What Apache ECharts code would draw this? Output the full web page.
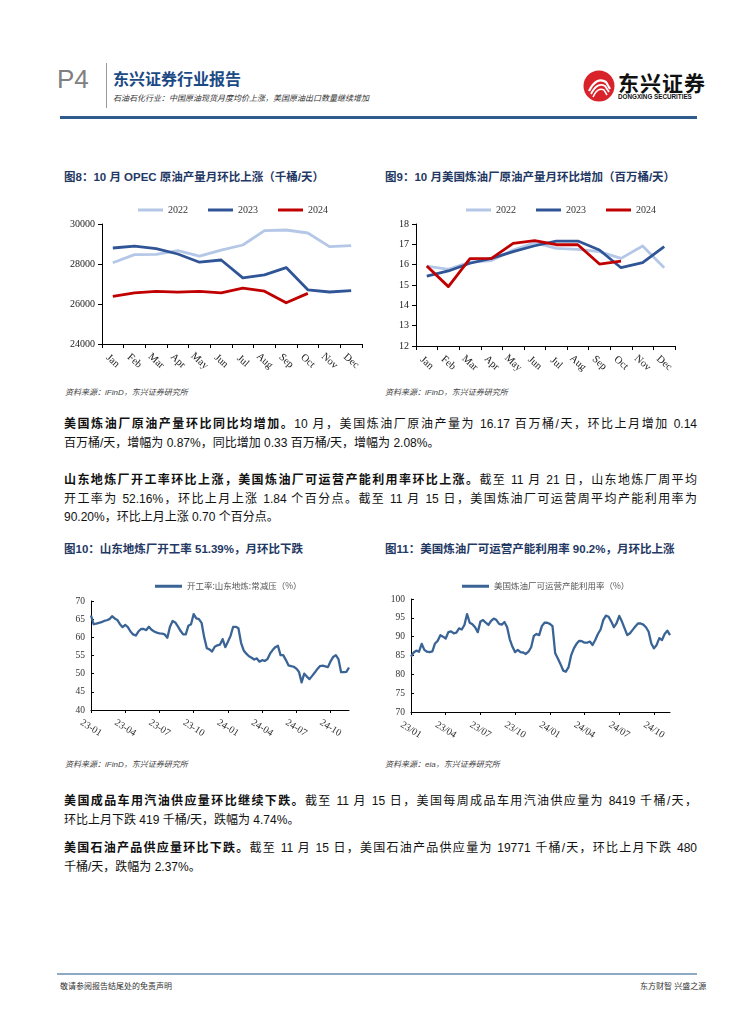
<!DOCTYPE html>
<html><head><meta charset="utf-8">
<script src="https://cdn.jsdelivr.net/npm/echarts/dist/echarts.min.js"></script>
<style>
body{margin:0;width:755px;height:1024px;background:#fff;position:relative;font-family:"Liberation Sans","Noto Sans CJK SC",sans-serif;overflow:hidden}
.abs{position:absolute;white-space:nowrap}
.ctitle{font-weight:bold;color:#1F3864;font-size:11.5px}
.src{font-size:8px;color:#444;font-style:italic}
.para{position:absolute;left:64px;width:633px;font-size:12px;color:#111;line-height:18.5px}
.para .j{text-align:justify;text-align-last:justify}
.para b{font-weight:bold}
.chart{position:absolute;width:320px;height:185px}
</style></head>
<body>
<!-- header -->
<div class="abs" style="left:57px;top:64px;font-size:26px;color:#808080;font-family:'Liberation Sans'">P4</div>
<div class="abs" style="left:106px;top:63px;width:1px;height:45px;background:#999"></div>
<div class="abs" style="left:113px;top:66px;font-size:16px;font-weight:bold;color:#1B4A85">东兴证券行业报告</div>
<div class="abs" style="left:113px;top:92px;font-size:8px;font-style:italic;color:#333">石油石化行业：中国原油现货月度均价上涨，美国原油出口数量继续增加</div>
<svg class="abs" style="left:582px;top:69px" width="34" height="34" viewBox="0 0 34 34">
  <circle cx="17" cy="17" r="15.5" fill="#D9232A"/>
  <path d="M7 22 C12 12,18 9,24 13 L28 20" stroke="#fff" stroke-width="2.2" fill="none"/>
  <path d="M9 25 C13 17,18 14,23 17 L27 23" stroke="#fff" stroke-width="1.8" fill="none"/>
  <path d="M11 28 C14 21,18 19,22 21 L25 26" stroke="#fff" stroke-width="1.5" fill="none"/>
</svg>
<div class="abs" style="left:618px;top:67px;font-size:21px;font-weight:bold;color:#111;letter-spacing:1px;font-family:'Noto Sans CJK SC'">东兴证券</div>
<div class="abs" style="left:618px;top:93px;font-size:6.3px;font-weight:bold;color:#111">DONGXING SECURITIES</div>
<div class="abs" style="left:60px;top:116px;width:637px;height:3px;background:#2E5C8A"></div>

<!-- chart titles row 1 -->
<div class="abs ctitle" style="left:64px;top:168px">图8：10 月 OPEC 原油产量月环比上涨（千桶/天）</div>
<div class="abs ctitle" style="left:385px;top:168px">图9：10 月美国炼油厂原油产量月环比增加（百万桶/天）</div>
<div id="c8" class="chart" style="left:55px;top:195px"></div>
<div id="c9" class="chart" style="left:380px;top:195px"></div>
<div class="abs src" style="left:65px;top:386px">资料来源：iFinD，东兴证券研究所</div>
<div class="abs src" style="left:385px;top:386px">资料来源：iFinD，东兴证券研究所</div>

<div class="para" style="top:415px">
<div class="j"><b>美国炼油厂原油产量环比同比均增加。</b>10 月，美国炼油厂原油产量为 16.17 百万桶/天，环比上月增加 0.14</div>
<div>百万桶/天，增幅为 0.87%，同比增加 0.33 百万桶/天，增幅为 2.08%。</div>
</div>
<div class="para" style="top:471px">
<div class="j"><b>山东地炼厂开工率环比上涨，美国炼油厂可运营产能利用率环比上涨。</b>截至 11 月 21 日，山东地炼厂周平均</div>
<div class="j">开工率为 52.16%，环比上月上涨 1.84 个百分点。截至 11 月 15 日，美国炼油厂可运营周平均产能利用率为</div>
<div>90.20%，环比上月上涨 0.70 个百分点。</div>
</div>

<!-- chart titles row 2 -->
<div class="abs ctitle" style="left:64px;top:540px">图10：山东地炼厂开工率 51.39%，月环比下跌</div>
<div class="abs ctitle" style="left:385px;top:540px">图11：美国炼油厂可运营产能利用率 90.2%，月环比上涨</div>
<div id="c10" class="chart" style="left:55px;top:570px"></div>
<div id="c11" class="chart" style="left:380px;top:570px"></div>
<div class="abs src" style="left:65px;top:758px">资料来源：iFinD，东兴证券研究所</div>
<div class="abs src" style="left:385px;top:758px">资料来源：eia，东兴证券研究所</div>

<div class="para" style="top:792px">
<div class="j"><b>美国成品车用汽油供应量环比继续下跌。</b>截至 11 月 15 日，美国每周成品车用汽油供应量为 8419 千桶/天，</div>
<div>环比上月下跌 419 千桶/天，跌幅为 4.74%。</div>
</div>
<div class="para" style="top:839px">
<div class="j"><b>美国石油产品供应量环比下跌。</b>截至 11 月 15 日，美国石油产品供应量为 19771 千桶/天，环比上月下跌 480</div>
<div>千桶/天，跌幅为 2.37%。</div>
</div>

<!-- footer -->
<div class="abs" style="left:57px;top:973px;width:640px;height:2px;background:#8EA9C4"></div>
<div class="abs" style="left:60px;top:980px;font-size:8px;color:#333">敬请参阅报告结尾处的免责声明</div>
<div class="abs" style="left:640px;top:980px;font-size:8px;color:#333">东方财智 兴盛之源</div>

<script>
// ---------- data ----------
const months = ['Jan','Feb','Mar','Apr','May','Jun','Jul','Aug','Sep','Oct','Nov','Dec'];
const yearNames = ['2022','2023','2024'];

const opec2022 = [28060,28470,28480,28670,28390,28690,28950,29670,29700,29550,28870,28920];
const opec2023 = [28800,28890,28770,28500,28090,28200,27310,27460,27820,26710,26600,26670];
const opec2024 = [26380,26560,26630,26590,26630,26560,26790,26640,26060,26530];

const us2022 = [15.93,15.77,16.13,16.2,16.72,17.08,16.8,16.75,16.64,16.31,16.92,15.85];
const us2023 = [15.44,15.69,16.07,16.31,16.64,16.93,17.16,17.16,16.72,15.85,16.1,16.89];
const us2024 = [15.93,14.92,16.3,16.31,17.05,17.18,16.98,16.98,16.03,16.17];

const sdTickLabels = ['23-01','23-04','23-07','23-10','24-01','24-04','24-07','24-10'];
const sdRate = [66.0,63.6,63.8,64.0,64.2,64.5,64.7,65.0,65.8,65.2,
 64.8,63.6,62.8,63.4,62.8,61.6,60.8,60.5,61.6,62.3,
 62.3,62.0,62.9,62.1,61.6,61.3,61.1,61.0,60.8,59.9,
 62.9,64.5,64.1,63.0,61.8,60.8,60.8,63.2,63.6,66.4,
 65.2,65.0,64.0,60.0,57.0,56.7,56.1,57.4,57.8,58.0,
 59.5,57.3,58.8,60.4,62.9,62.9,62.5,58.5,56.4,55.5,
 54.8,54.4,53.9,54.2,53.3,53.7,53.5,54.0,55.5,56.5,
 57.3,57.7,55.1,55.1,53.8,52.3,52.1,51.9,51.4,50.5,
 47.6,50.0,49.2,48.5,49.4,50.3,51.3,52.1,52.2,52.0,
 51.8,53.4,54.6,55.1,54.0,50.4,50.4,50.5,51.7];

const usTickLabels = ['23/01','23/04','23/07','23/10','24/01','24/04','24/07','24/10'];
const usUtil = [84.7,85.8,86.3,86.0,88.1,86.5,86.0,85.9,86.1,88.2,
 88.9,90.4,90.0,89.5,91.2,91.4,90.9,91.1,92.2,91.9,
 93.1,96.0,93.7,93.3,92.5,91.2,94.0,94.4,93.7,93.1,
 94.2,94.8,94.4,93.4,93.2,93.9,92.5,89.3,87.3,85.9,
 86.5,85.9,85.8,85.4,86.0,87.2,90.2,90.7,90.4,92.8,
 93.7,93.7,93.4,92.8,85.6,84.2,82.7,81.0,80.7,81.9,
 85.1,86.9,88.1,88.9,88.8,88.4,88.4,88.7,87.8,89.1,
 90.7,91.9,94.4,95.6,95.3,94.0,92.5,93.6,95.5,94.0,
 92.2,90.4,90.9,91.8,92.7,93.5,93.5,93.2,92.5,91.3,
 88.2,86.9,87.8,89.6,89.1,90.7,91.6,90.4];

// ---------- charts ----------
const SERIF = 'Liberation Serif';
const yearColors = ['#B4C7E7','#2F5597','#C00000'];

function monthly(id, grid, legendLeft, yMin, yMax, yInt, sets){
  const ch = echarts.init(document.getElementById(id));
  ch.setOption({
    animation:false,
    legend:{top:5,left:legendLeft,itemWidth:25,itemHeight:3,itemGap:20,icon:'rect',
      textStyle:{fontFamily:SERIF,fontSize:10,color:'#333'},data:yearNames},
    grid:grid,
    xAxis:{type:'category',data:months,boundaryGap:true,
      axisLine:{lineStyle:{color:'#000',width:1}},
      axisTick:{show:true,length:4,lineStyle:{color:'#000'}},
      axisLabel:{rotate:-42,align:'center',verticalAlign:'middle',margin:17,
        fontFamily:SERIF,fontSize:10.5,color:'#222',interval:0}},
    yAxis:{type:'value',min:yMin,max:yMax,interval:yInt,splitLine:{show:false},
      axisLine:{show:true,lineStyle:{color:'#000',width:1}},
      axisTick:{show:true,length:4,lineStyle:{color:'#000'}},
      axisLabel:{fontFamily:SERIF,fontSize:10,color:'#222',margin:7,formatter:v=>String(v)}},
    series:sets.map((d,i)=>({name:yearNames[i],type:'line',data:d,symbol:'none',
      lineStyle:{color:yearColors[i],width:2.8,join:'round'},itemStyle:{color:yearColors[i]}}))
  });
}
monthly('c8',{left:47,top:29,right:13,bottom:36},78,24000,30000,2000,[opec2022,opec2023,opec2024]);
monthly('c9',{left:36,top:29,right:25,bottom:34},81,12,18,1,[us2022,us2023,us2024]);

function weekly(id, grid, legendLeft, name, yMin, yMax, vals, ticks){
  const ch = echarts.init(document.getElementById(id));
  const cats = vals.map((v,i)=>String(i));
  ch.setOption({
    animation:false,
    legend:{top:7,left:legendLeft,itemWidth:27,itemHeight:3,icon:'rect',
      textStyle:{fontSize:8.5,color:'#555',fontFamily:'Noto Sans CJK SC'},data:[name]},
    grid:grid,
    xAxis:{type:'category',data:cats,boundaryGap:false,
      axisLine:{lineStyle:{color:'#000',width:1}},
      axisTick:{show:true,interval:12,length:3,lineStyle:{color:'#000'}},
      axisLabel:{interval:12,rotate:-32,align:'center',verticalAlign:'middle',margin:18,
        fontFamily:SERIF,fontSize:10,color:'#333',
        formatter:(v,idx)=>ticks[Math.round(idx/13)]||''}},
    yAxis:{type:'value',min:yMin,max:yMax,interval:5,splitLine:{show:false},
      axisLine:{show:true,lineStyle:{color:'#000',width:1}},
      axisTick:{show:true,inside:true,length:3,lineStyle:{color:'#000'}},
      axisLabel:{fontFamily:SERIF,fontSize:9.5,color:'#333',margin:6}},
    series:[{name:name,type:'line',data:vals,symbol:'none',
      lineStyle:{color:'#3A6496',width:2.3,join:'round'},itemStyle:{color:'#3A6496'}}]
  });
}
weekly('c10',{left:36,top:31,right:26,bottom:45},95,'开工率:山东地炼:常减压（%）',40,70,sdRate,sdTickLabels);
weekly('c11',{left:31,top:29,right:30,bottom:43},77,'美国炼油厂可运营产能利用率（%）',70,100,usUtil,usTickLabels);
</script>
</body></html>
